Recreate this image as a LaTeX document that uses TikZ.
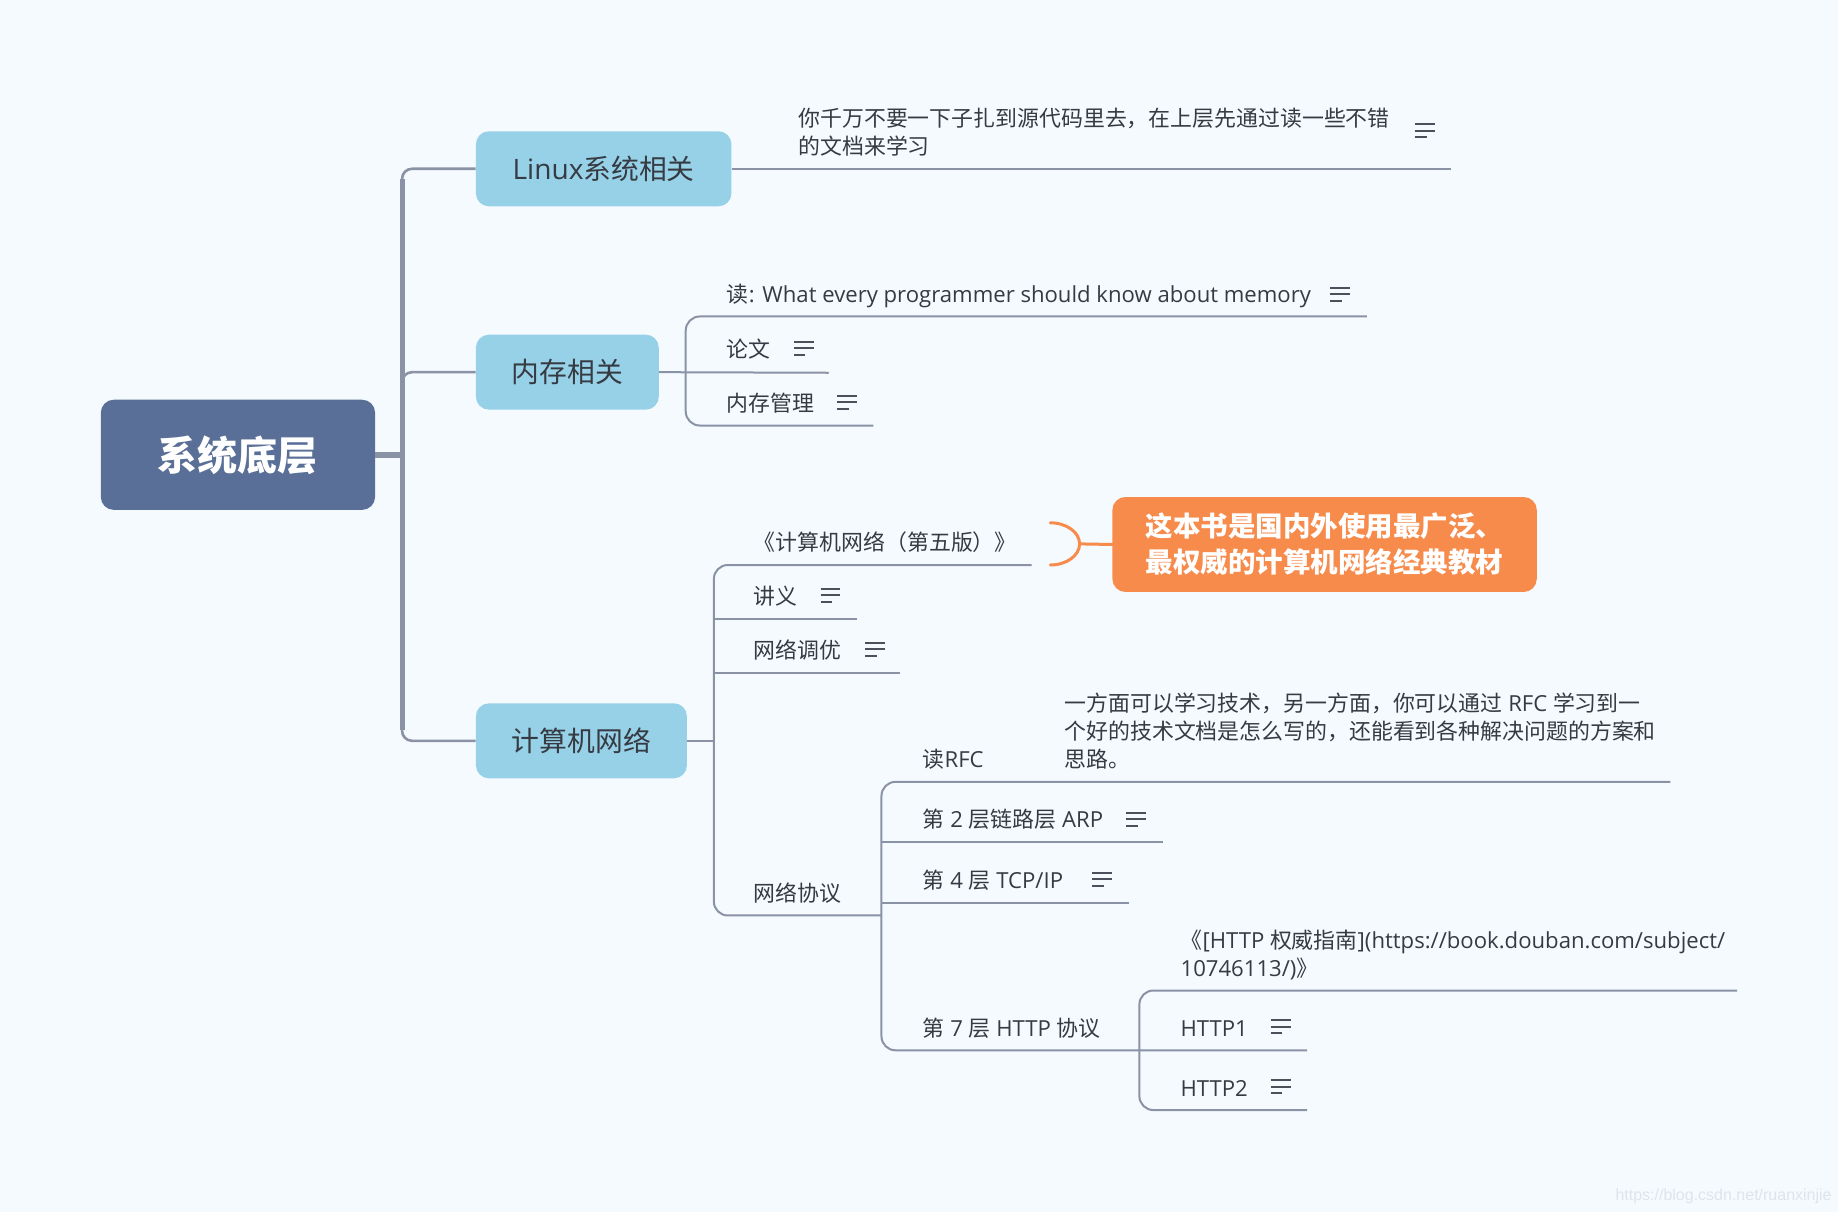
\documentclass[tikz,border=0pt]{standalone}
\usepackage{fontspec}
\setmainfont{Noto Sans CJK SC}
\newfontfamily\os[Scale=1.01]{Open Sans}
\newfontfamily\wmfont{Liberation Sans}
\definecolor{bg}{HTML}{F5FAFE}
\definecolor{lc}{HTML}{8A93A5}
\definecolor{tx}{HTML}{363A42}
\definecolor{rootc}{HTML}{596F97}
\definecolor{topc}{HTML}{96D1E8}
\definecolor{orc}{HTML}{F68B4C}
\definecolor{ic}{HTML}{4B505A}
\definecolor{wmc}{HTML}{DEE4EA}
\tikzset{
  conn/.style={draw=lc, line width=2pt},
  subt/.style={anchor=base west, inner sep=0pt, text=tx, font=\fontsize{21.9}{28}\selectfont},
  topic/.style={fill=topc, rounded corners=13pt, text=tx, inner sep=0pt,
    font=\fontsize{27.8}{32}\selectfont, minimum height={64*1.1722pt}},
  notes/.pic={\draw[ic, line width=2pt] (0,-5.6) -- (17,-5.6) (0,0) -- (17,0) (0,5.6) -- (10,5.6);}
}
\begin{document}
\begin{tikzpicture}[x=1.1722pt,y=-1.1722pt]
\fill[bg] (0,0) rectangle (1568,1034);
\useasboundingbox (0,0) rectangle (1568,1034);

% root and topics
\node[fill=rootc, rounded corners=13pt, minimum width={234*1.1722pt}, minimum height={94*1.1722pt},
  text=white, font=\fontsize{40}{44}\selectfont\bfseries, inner sep=0pt] (root) at (203,388) {系统底层};
\node[topic, minimum width={218*1.1722pt}] (lin) at (515,144) {{\os Linux}系统相关};
\node[topic, minimum width={156*1.1722pt}] (mem) at (484,317.5) {内存相关};
\node[topic, minimum width={180*1.1722pt}] (net) at (496,632) {计算机网络};

% trunk
\coordinate (j) at (343,388);
\draw[lc, line width=6pt] (root.east) -- (j);
\draw[lc, line width=5pt] (343,153) -- (343,623);
\draw[lc, line width=2.6pt, rounded corners=10pt] (j) |- (lin.west);
\draw[lc, line width=2.6pt, rounded corners=10pt] (j) |- (mem.west);
\draw[lc, line width=2.6pt, rounded corners=10pt] (j) |- (net.west);

% Linux note
\draw[conn] (lin.east) -- (1238,144);
\node[subt] (ln1) at (681,108) {你千万不要一下子扎到源代码里去，在上层先通过读一些不错};
\node[subt] (ln2) at (681,132) {的文档来学习};
\pic at (1207,111.5) {notes};

% memory
\draw[conn] (mem.east) -- (707,318);
\draw[conn, rounded corners=14pt] (1166,270) -| (585,318) |- (745,363);
\node[subt] (m1) at (620,258) {读{\os : What every programmer should know about memory}};
\node[subt] (m2) at (620,305) {论文};
\node[subt] (m3) at (620,351) {内存管理};
\pic at (1135,251) {notes};
\pic at (677,297) {notes};
\pic at (714,343) {notes};

% network
\draw[conn] (net.east) -- (609,632);
\draw[conn, rounded corners=14pt] (880,482) -| (609,632) |- (752,781);
\draw[conn] (609,528) -- (731,528);
\draw[conn] (609,574) -- (768,574);
\node[subt] (n1) at (643,470) {《计算机网络（第五版）》};
\node[subt] (n2) at (643,516) {讲义};
\node[subt] (n3) at (643,562) {网络调优};
\node[subt] (n4) at (643,769) {网络协议};
\pic at (700,508) {notes};
\pic at (738,554) {notes};

% callout
\draw[orc, line width=3pt, line cap=round] (896,446) arc[start angle=90, end angle=-90, x radius=29.3pt, y radius=21.1pt];
\node[fill=orc, rounded corners=13pt, minimum width={362*1.1722pt}, minimum height={81*1.1722pt}, inner sep=0pt,
  text=white, align=left, font=\fontsize{27.5}{36}\selectfont\bfseries] (call) at (1130,464.5)
  {这本书是国内外使用最广泛、\\最权威的计算机网络经典教材};
\draw[orc, line width=3pt, line cap=round] (921,464) -- (call.west);

% protocols
\draw[conn, rounded corners=14pt] (1425,667) -| (752,781) |- (1115,896);
\draw[conn] (752,718) -- (992,718);
\draw[conn] (752,770) -- (963,770);
\node[subt] (p1) at (787,655) {读{\os RFC}};
\node[subt] (p1a) at (908,607) {一方面可以学习技术，另一方面，你可以通过{\os\ RFC }学习到一};
\node[subt] (p1b) at (908,631) {个好的技术文档是怎么写的，还能看到各种解决问题的方案和};
\node[subt] (p1c) at (908,655) {思路。};
\node[subt] (p2) at (787,706) {第{\os\ 2 }层链路层{\os\ ARP}};
\node[subt] (p3) at (787,758) {第{\os\ 4 }层{\os\ TCP/IP}};
\node[subt] (p4) at (787,884) {第{\os\ 7 }层{\os\ HTTP }协议};
\pic at (961,699) {notes};
\pic at (932,750) {notes};

% http
\draw[conn, rounded corners=14pt] (1482,845) -| (972,896) |- (1115,947);
\node[subt] (h0a) at (1007,809) {《{\os [HTTP }权威指南{\os ](https://book.douban.com/subject/}};
\node[subt] (h0b) at (1007,833) {{\os 10746113/)}》};
\node[subt] (h1) at (1007,884) {{\os HTTP1}};
\node[subt] (h2) at (1007,935) {{\os HTTP2}};
\pic at (1084,876) {notes};
\pic at (1084,927) {notes};

% watermark
\node[anchor=base west, inner sep=0pt, text=wmc, font=\wmfont\fontsize{16}{18}\selectfont] (wm) at (1378,1024) {https://blog.csdn.net/ruanxinjie};
\end{tikzpicture}
\end{document}
